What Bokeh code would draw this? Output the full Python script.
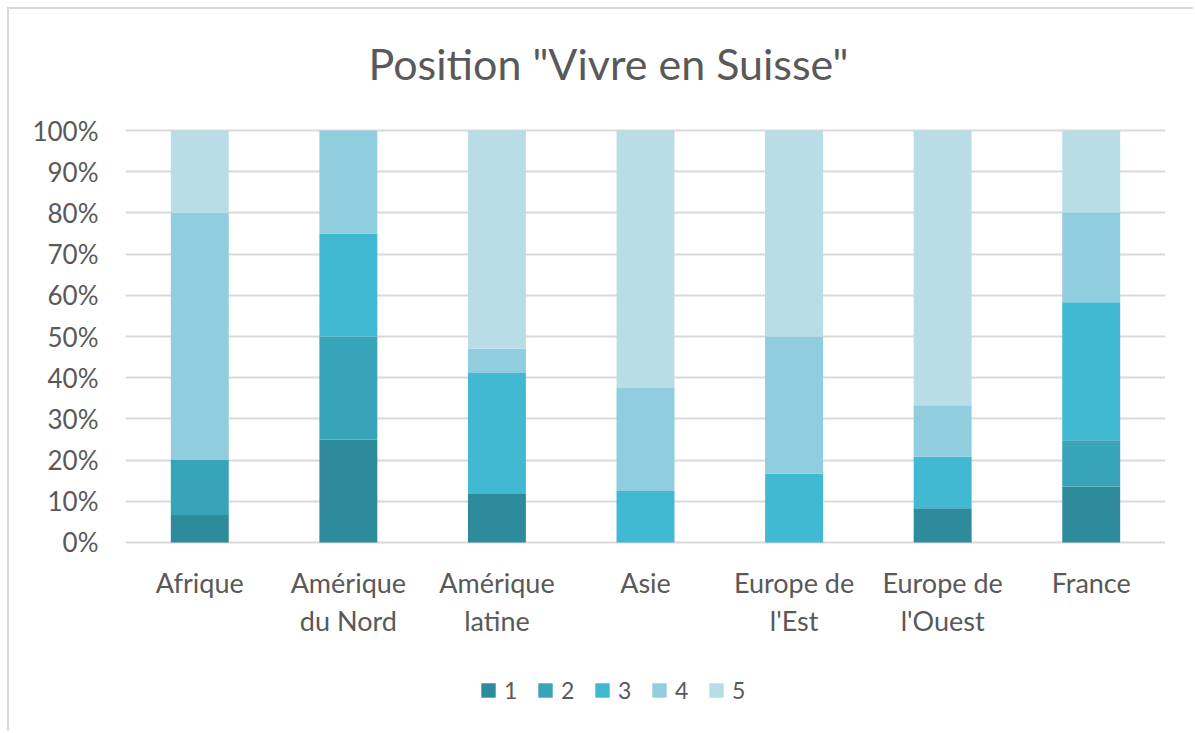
from bokeh.plotting import figure
from bokeh.models import (ColumnDataSource, Legend, LegendItem, NumeralTickFormatter,
                          FixedTicker, Range1d, Label)
from bokeh.core.properties import value
from bokeh.embed import file_html
from bokeh.resources import INLINE

categories = ["Afrique", "Amérique du Nord", "Amérique latine", "Asie",
              "Europe de l'Est", "Europe de l'Ouest", "France"]
label_line1 = ["Afrique", "Amérique", "Amérique", "Asie", "Europe de", "Europe de", "France"]
label_line2 = ["", "du Nord", "latine", "", "l'Est", "l'Ouest", ""]
series_names = ["1", "2", "3", "4", "5"]
s1 = [0.0667, 0.25, 0.1176, 0.0, 0.0, 0.0833, 0.136]
s2 = [0.1333, 0.25, 0.0, 0.0, 0.0, 0.0, 0.112]
s3 = [0.0, 0.25, 0.2941, 0.125, 0.1667, 0.125, 0.335]
s4 = [0.60, 0.25, 0.0588, 0.25, 0.3333, 0.125, 0.218]
s5 = [0.20, 0.0, 0.5295, 0.625, 0.50, 0.6667, 0.199]
colors = ["#2E8B9C", "#38A4BA", "#41B9D3", "#90CDDE", "#B9DDE7"]
y_ticks = [0, 0.1, 0.2, 0.3, 0.4, 0.5, 0.6, 0.7, 0.8, 0.9, 1.0]
title_text = 'Position "Vivre en Suisse"'

FONT = "Lato"
TXT = "#595959"

source = ColumnDataSource(dict(cat=categories, s1=s1, s2=s2, s3=s3, s4=s4, s5=s5))
lab_src = ColumnDataSource(dict(cat=categories, l1=label_line1, l2=label_line2))

p = figure(x_range=categories, y_range=Range1d(-0.4636, 1.2937), width=1186, height=724,
           output_backend="svg", toolbar_location=None,
           min_border_left=116, min_border_right=30, min_border_top=0, min_border_bottom=0)
p.styles = {"margin": "7px 0 0 7px", "border-left": "2px solid #d9d9d9",
            "border-top": "2px solid #d9d9d9"}
p.outline_line_color = None
p.background_fill_color = "white"
p.border_fill_color = "white"

renderers = p.vbar_stack(["s1", "s2", "s3", "s4", "s5"], x="cat", width=0.39,
                         color=colors, line_color=None, source=source)

p.xgrid.grid_line_color = None
p.ygrid.grid_line_color = "#d9d9d9"
p.ygrid.grid_line_width = 2
p.ygrid.level = "underlay"

p.xaxis.visible = False
p.yaxis.ticker = FixedTicker(ticks=y_ticks)
p.yaxis.formatter = NumeralTickFormatter(format="0%")
p.yaxis.axis_line_color = None
p.yaxis.major_tick_line_color = None
p.yaxis.minor_tick_line_color = None
p.yaxis.major_label_text_font = FONT
p.yaxis.major_label_text_font_size = "26px"
p.yaxis.major_label_text_color = TXT
p.yaxis.major_label_standoff = 21

p.text(x="cat", y=-0.0971, text="l1", source=lab_src, text_align="center",
       text_baseline="middle", text_font=value(FONT), text_font_size="27px", text_color=TXT)
p.text(x="cat", y=-0.1893, text="l2", source=lab_src, text_align="center",
       text_baseline="middle", text_font=value(FONT), text_font_size="27px", text_color=TXT)

items = [LegendItem(label=n, renderers=[r]) for n, r in zip(series_names, renderers)]
legend = Legend(items=items, orientation="horizontal", location=(354, 29),
                glyph_width=18, glyph_height=18, label_standoff=7, spacing=12,
                padding=0, margin=0, border_line_color=None, background_fill_alpha=0,
                label_text_font=FONT, label_text_font_size="23px", label_text_color=TXT)
p.add_layout(legend)

p.add_layout(Label(x=483, y=1.162, x_units="screen", y_units="data", text=title_text,
                   text_align="center", text_baseline="middle", text_font=FONT,
                   text_font_size="43px", text_color=TXT))

open("out.html", "w").write(file_html(p, INLINE))
